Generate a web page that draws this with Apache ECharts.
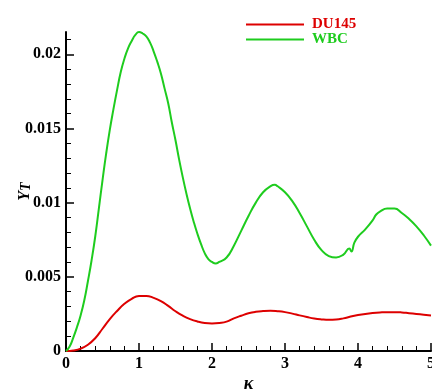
<!DOCTYPE html>
<html>
<head>
<meta charset="utf-8">
<script src="https://cdn.jsdelivr.net/npm/echarts@6/dist/echarts.min.js"></script>
<style>
  html, body { margin: 0; padding: 0; background: #fff; }
  #chart { width: 432px; height: 389px; }
</style>
</head>
<body>
<div id="chart"></div>
<script>
  // values (kappa, Y_T)
  const wbcKappa = [
    0, 0.05, 0.1, 0.15, 0.2, 0.25, 0.3, 0.35, 0.4, 0.45, 0.5, 0.55, 0.6, 0.65, 0.7, 0.75,
    0.8, 0.85, 0.9, 0.95, 1.0, 1.05, 1.1, 1.15, 1.2, 1.25, 1.3, 1.35, 1.4, 1.45, 1.5,
    1.55, 1.6, 1.65, 1.7, 1.75, 1.8, 1.85, 1.9, 1.95, 2.0, 2.05, 2.1, 2.2, 2.3, 2.4,
    2.5, 2.6, 2.7, 2.8, 2.86, 2.9, 3.0, 3.1, 3.2, 3.3, 3.4, 3.5, 3.6, 3.7, 3.8, 3.88,
    3.91, 3.95, 4.0, 4.1, 4.2, 4.25, 4.3, 4.4, 4.5, 4.6, 4.7, 4.8, 4.9, 5.0
  ];
  const wbcValues = [
    0, 0.0003, 0.0009, 0.0016, 0.0024, 0.0034, 0.0047, 0.0061, 0.0077, 0.0096, 0.0115, 0.0133, 0.0149, 0.0163, 0.0176, 0.0188,
    0.0197, 0.0204, 0.0209, 0.0213, 0.0215, 0.0214, 0.0212, 0.0208, 0.0202, 0.0195, 0.0187, 0.0177, 0.0167, 0.0154, 0.0142,
    0.0129, 0.0117, 0.0106, 0.0096, 0.0087, 0.0079, 0.0072, 0.0066, 0.0062, 0.0060, 0.0059, 0.0060, 0.0063, 0.0071, 0.0081,
    0.0091, 0.0100, 0.0107, 0.0111, 0.0112, 0.0111, 0.0107, 0.0101, 0.0093, 0.0084, 0.0075, 0.0068, 0.0064, 0.0063, 0.0065, 0.0069,
    0.0067, 0.0073, 0.0077, 0.0082, 0.0088, 0.0092, 0.0094, 0.0096, 0.0096, 0.0093, 0.0089, 0.0084, 0.0078, 0.0071
  ];
  const du145Kappa = [
    0, 0.1, 0.2, 0.3, 0.4, 0.5, 0.6, 0.7, 0.8, 0.9, 1.0, 1.1, 1.2, 1.3, 1.4, 1.5, 1.6,
    1.7, 1.8, 1.9, 2.0, 2.1, 2.2, 2.3, 2.4, 2.5, 2.6, 2.7, 2.8, 2.9, 3.0, 3.1, 3.2, 3.3,
    3.4, 3.5, 3.6, 3.7, 3.8, 3.9, 4.0, 4.1, 4.2, 4.3, 4.4, 4.5, 4.6, 4.7, 4.8, 4.9, 5.0
  ];
  const du145Values = [
    0, 0.00004, 0.00016, 0.00042, 0.00086, 0.0015, 0.00215, 0.0027, 0.00318, 0.00352, 0.0037, 0.00371, 0.00358, 0.00336, 0.00304, 0.00268, 0.00238,
    0.00215, 0.00199, 0.00189, 0.00186, 0.00189, 0.00198, 0.0022, 0.00238, 0.00254, 0.00264, 0.00269, 0.00271, 0.00268, 0.00262, 0.00252, 0.0024, 0.00229,
    0.00219, 0.00213, 0.0021, 0.00212, 0.0022, 0.00232, 0.00242, 0.0025, 0.00256, 0.0026, 0.00262, 0.00262, 0.0026, 0.00255, 0.0025, 0.00245, 0.0024
  ];
  const yMajorTicks = [0, 0.005, 0.01, 0.015, 0.02];
  const yMinorTicks = [
    0.001, 0.002, 0.003, 0.004, 0.006, 0.007, 0.008, 0.009, 0.011, 0.012, 0.013, 0.014,
    0.016, 0.017, 0.018, 0.019, 0.021
  ];

  const RED = '#dd0000';
  const GREEN = '#1ecc1e';
  const FONT = 'Liberation Serif';

  const pairs = (xs, ys) => xs.map((x, i) => [x, ys[i]]);

  const chart = echarts.init(document.getElementById('chart'));

  const yBase = {
    type: 'value',
    min: 0,
    max: 0.0215,
    position: 'left',
    splitLine: { show: false }
  };

  chart.setOption({
    animation: false,
    backgroundColor: '#fff',
    grid: {
      left: 66, right: 1, top: 32, bottom: 38,
      containLabel: false,
      outerBoundsMode: 'none'
    },
    legend: {
      orient: 'vertical',
      left: 241,
      top: 12,
      itemWidth: 58,
      itemHeight: 2,
      itemGap: 0,
      icon: 'rect',
      textStyle: {
        fontFamily: FONT,
        fontWeight: 'bold',
        fontSize: 15,
        lineHeight: 15,
        padding: [0, 0, 0, 3]
      },
      data: [
        { name: 'DU145', itemStyle: { color: RED }, textStyle: { color: RED } },
        { name: 'WBC', itemStyle: { color: GREEN }, textStyle: { color: GREEN } }
      ]
    },
    xAxis: {
      type: 'value',
      min: 0,
      max: 5,
      interval: 1,
      name: 'κ',
      nameLocation: 'middle',
      nameGap: 24,
      nameMoveOverlap: false,
      nameTextStyle: {
        fontFamily: FONT,
        fontWeight: 'bold',
        fontStyle: 'italic',
        fontSize: 18,
        color: '#000'
      },
      axisLine: { lineStyle: { color: '#000', width: 2 } },
      axisTick: { inside: true, length: 8, lineStyle: { color: '#000', width: 1.5 } },
      minorTick: { show: true, splitNumber: 5, length: 5, lineStyle: { color: '#000', width: 1 } },
      axisLabel: {
        margin: 5,
        fontFamily: FONT,
        fontWeight: 'bold',
        fontSize: 16,
        color: '#000'
      },
      splitLine: { show: false }
    },
    yAxis: [
      Object.assign({}, yBase, {
        name: '{y|Y}{t|T}',
        nameLocation: 'middle',
        nameRotate: 90,
        nameGap: 33,
        nameMoveOverlap: false,
        nameTextStyle: {
          color: '#000',
          rich: {
            y: {
              fontFamily: FONT, fontWeight: 'bold', fontStyle: 'italic',
              fontSize: 16, lineHeight: 16, verticalAlign: 'top', color: '#000'
            },
            t: {
              fontFamily: FONT, fontWeight: 'bold', fontStyle: 'italic',
              fontSize: 14, lineHeight: 14, verticalAlign: 'bottom',
              padding: [13, 0, 0, 0], color: '#000'
            }
          }
        },
        axisLine: { lineStyle: { color: '#000', width: 2 } },
        axisTick: {
          inside: true, length: 8, customValues: yMajorTicks,
          lineStyle: { color: '#000', width: 1.5 }
        },
        axisLabel: {
          customValues: yMajorTicks,
          margin: 5,
          fontFamily: FONT,
          fontWeight: 'bold',
          fontSize: 16,
          color: '#000'
        }
      }),
      Object.assign({}, yBase, {
        axisLine: { show: false },
        axisLabel: { show: false },
        axisTick: {
          inside: true, length: 5, customValues: yMinorTicks,
          lineStyle: { color: '#000', width: 1 }
        }
      })
    ],
    series: [
      {
        name: 'DU145',
        type: 'line',
        yAxisIndex: 0,
        data: pairs(du145Kappa, du145Values),
        smooth: true,
        showSymbol: false,
        lineStyle: { color: RED, width: 2 },
        itemStyle: { color: RED }
      },
      {
        name: 'WBC',
        type: 'line',
        yAxisIndex: 0,
        data: pairs(wbcKappa, wbcValues),
        smooth: true,
        showSymbol: false,
        lineStyle: { color: GREEN, width: 2 },
        itemStyle: { color: GREEN }
      }
    ]
  });
</script>
</body>
</html>
